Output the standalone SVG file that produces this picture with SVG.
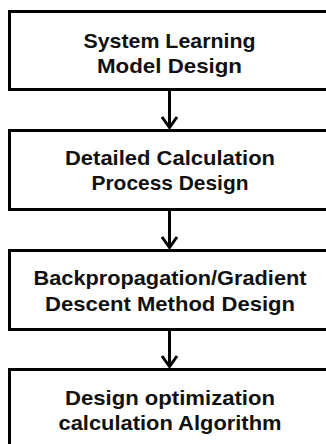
<svg xmlns="http://www.w3.org/2000/svg" width="326" height="444" viewBox="0 0 326 444">
<defs>
<style>
.box{fill:#fff;stroke:#000;stroke-width:3}
.t{font-family:"Liberation Sans",Arial,sans-serif;font-weight:bold;font-size:21px;fill:#111;text-anchor:middle}
.c{stroke:#000;stroke-width:3;fill:none}
.h{stroke:#000;stroke-width:3;fill:none;stroke-linejoin:miter}
</style>
</defs>
<rect width="326" height="444" fill="#fff"/>
<g id="n1"><rect class="box" x="9.5" y="11.5" width="330" height="78"/>
<text class="t" x="169.5" y="48" textLength="172" lengthAdjust="spacingAndGlyphs">System Learning</text><text class="t" x="169.5" y="72.5" textLength="145" lengthAdjust="spacingAndGlyphs">Model Design</text></g>
<g id="n2"><rect class="box" x="9.5" y="130.5" width="330" height="79"/>
<text class="t" x="170" y="165" textLength="210" lengthAdjust="spacingAndGlyphs">Detailed Calculation</text><text class="t" x="170" y="190" textLength="157" lengthAdjust="spacingAndGlyphs">Process Design</text></g>
<g id="n3"><rect class="box" x="9.5" y="250.5" width="330" height="79"/>
<text class="t" x="170" y="285" textLength="273" lengthAdjust="spacingAndGlyphs">Backpropagation/Gradient</text><text class="t" x="170" y="310.5" textLength="250" lengthAdjust="spacingAndGlyphs">Descent Method Design</text></g>
<g id="n4"><rect class="box" x="9.5" y="369.5" width="330" height="90"/>
<text class="t" x="170" y="405" textLength="210" lengthAdjust="spacingAndGlyphs">Design optimization</text><text class="t" x="170" y="430" textLength="223" lengthAdjust="spacingAndGlyphs">calculation Algorithm</text></g>
<g id="connectors">
<line class="c" x1="169.5" y1="90" x2="169.5" y2="128"/><path class="h" d="M162,117 L169.5,127.5 L177,117"/>
<line class="c" x1="169.5" y1="210" x2="169.5" y2="248"/><path class="h" d="M162,237 L169.5,247.5 L177,237"/>
<line class="c" x1="169.5" y1="330" x2="169.5" y2="367"/><path class="h" d="M162,356 L169.5,366.5 L177,356"/>
</g>
</svg>
